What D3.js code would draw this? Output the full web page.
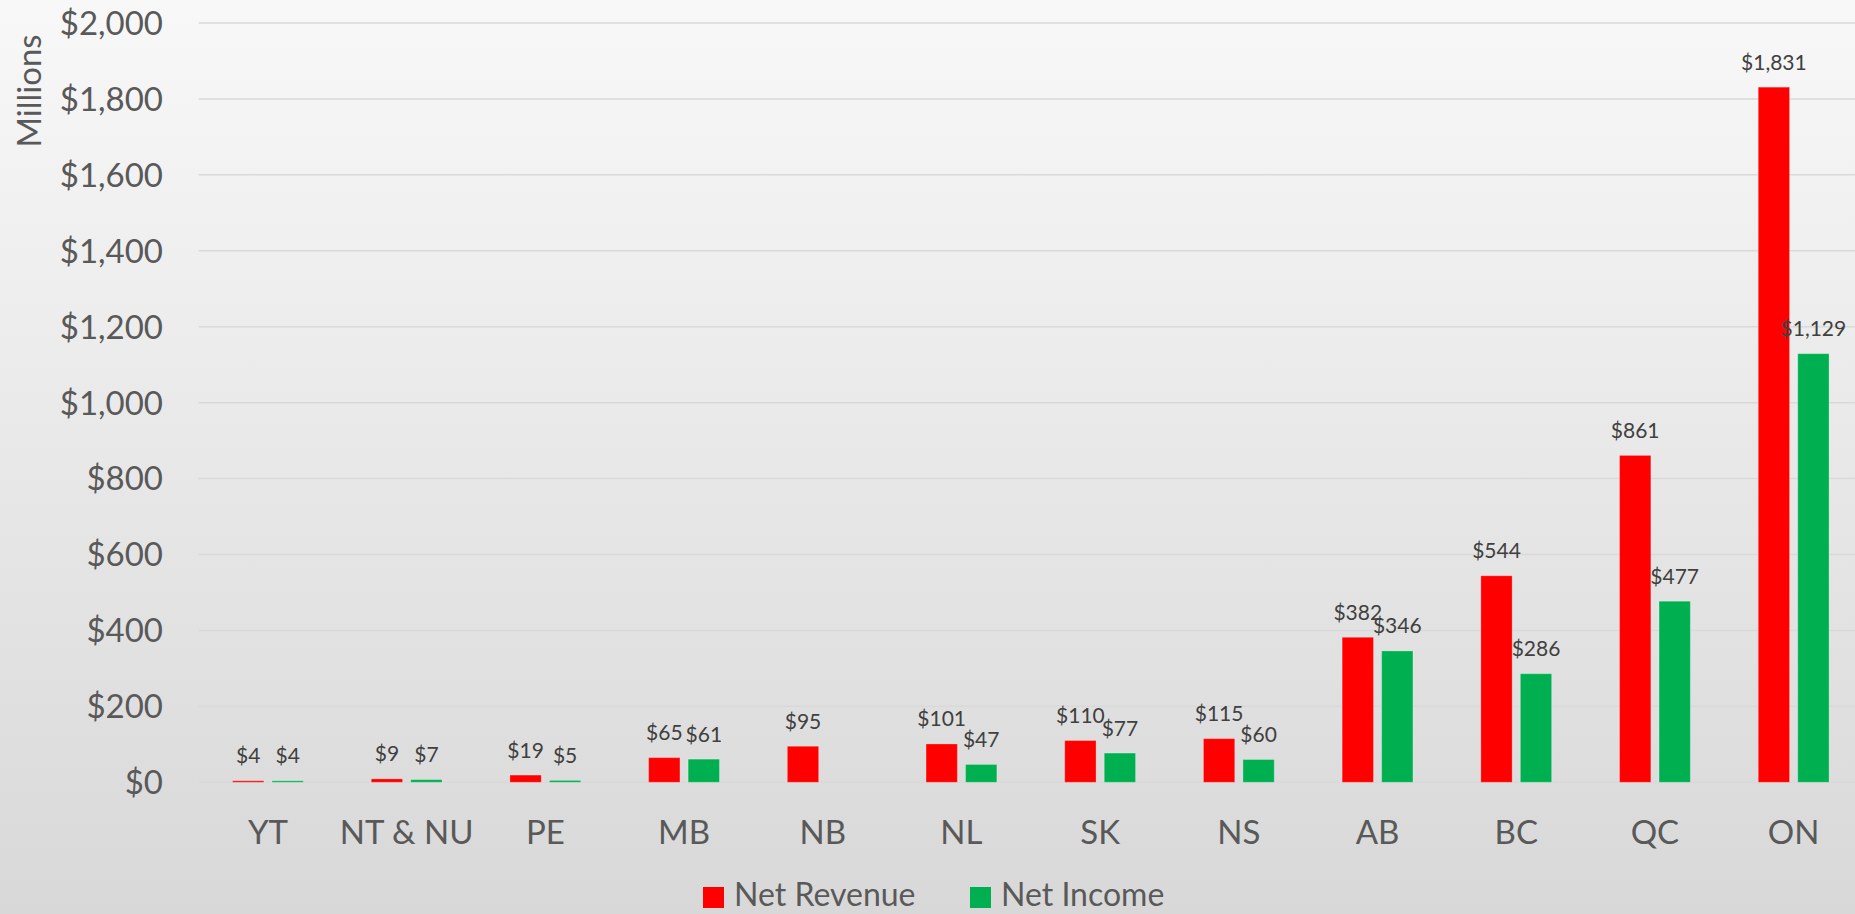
<!DOCTYPE html>
<html>
<head>
<meta charset="utf-8">
<script src="https://cdn.jsdelivr.net/npm/d3@7"></script>
<style>
  body { margin: 0; overflow: hidden; }
  svg { display: block; font-family: Lato, "Open Sans", sans-serif; }
</style>
</head>
<body>
<svg id="chart" width="1855" height="914"></svg>
<script>
  // provinces, smallest revenue first
  const provinces = ["YT", "NT & NU", "PE", "MB", "NB", "NL", "SK", "NS", "AB", "BC", "QC", "ON"];
  const netRevenue = [4, 9, 19, 65, 95, 101, 110, 115, 382, 544, 861, 1831];
  const netIncome = [4, 7, 5, 61, null, 47, 77, 60, 346, 286, 477, 1129];
  const yTicks = [0, 200, 400, 600, 800, 1000, 1200, 1400, 1600, 1800, 2000];
  const seriesNames = ["Net Revenue", "Net Income"];
  const seriesColors = ["#ff0000", "#00b050"];

  const W = 1855, H = 914;
  const svg = d3.select("#chart");

  // background gradient like the Excel chart area
  const defs = svg.append("defs");
  const grad = defs.append("linearGradient")
    .attr("id", "bg").attr("x1", 0).attr("y1", 0).attr("x2", 0).attr("y2", 1);
  grad.append("stop").attr("offset", "0%").attr("stop-color", "#f8f8f8");
  grad.append("stop").attr("offset", "100%").attr("stop-color", "#d8d8d8");
  svg.append("rect").attr("width", W).attr("height", H).attr("fill", "url(#bg)");

  const plotLeft = 198.6, bandW = 138.7;
  const x = d3.scaleBand()
    .domain(provinces)
    .range([plotLeft, plotLeft + bandW * provinces.length]);

  const y = d3.scaleLinear().domain([0, 2000]).range([782.3, 23]);

  const barW = 31.3, innerGap = 8.2;
  const barX = (p, i) => x(p) + x.bandwidth() / 2 + (i === 0 ? -innerGap / 2 - barW : innerGap / 2);

  // gridlines
  svg.append("g")
    .selectAll("line")
    .data(yTicks)
    .join("line")
    .attr("x1", plotLeft)
    .attr("x2", W)
    .attr("y1", d => y(d))
    .attr("y2", d => y(d))
    .attr("stroke", "#d9d9d9")
    .attr("stroke-width", 1.5);

  // y axis labels
  const fmt = d => "$" + d3.format(",")(d);
  svg.append("g")
    .selectAll("text")
    .data(yTicks)
    .join("text")
    .attr("x", 163)
    .attr("y", d => y(d))
    .attr("dy", "0.36em")
    .attr("text-anchor", "end")
    .attr("font-size", 33)
    .attr("fill", "#595959")
    .text(fmt);

  svg.append("text")
    .attr("transform", "translate(41,91) rotate(-90)")
    .attr("text-anchor", "middle")
    .attr("font-size", 33)
    .attr("fill", "#595959")
    .text("Millions");

  // bars and data labels
  const series = [netRevenue, netIncome];
  series.forEach((vals, i) => {
    const rows = provinces.map((p, k) => ({ p, v: vals[k] })).filter(d => d.v != null);
    const g = svg.append("g");
    g.selectAll("rect")
      .data(rows)
      .join("rect")
      .attr("x", d => barX(d.p, i))
      .attr("y", d => y(d.v))
      .attr("width", barW)
      .attr("height", d => y(0) - y(d.v))
      .attr("fill", seriesColors[i])
      .attr("stroke", "#ffffff")
      .attr("stroke-opacity", 0.25)
      .attr("stroke-width", 1);
    g.selectAll("text")
      .data(rows)
      .join("text")
      .attr("x", d => barX(d.p, i) + barW / 2)
      .attr("y", d => y(d.v) - 17.5)
      .attr("text-anchor", "middle")
      .attr("font-size", 21)
      .attr("fill", "#404040")
      .text(d => fmt(d.v));
  });

  // x axis labels
  svg.append("g")
    .selectAll("text")
    .data(provinces)
    .join("text")
    .attr("x", d => x(d) + x.bandwidth() / 2)
    .attr("y", 844)
    .attr("text-anchor", "middle")
    .attr("font-size", 33)
    .attr("fill", "#595959")
    .text(d => d);

  // legend
  const legendX = [703, 970];
  const legend = svg.append("g");
  seriesNames.forEach((name, i) => {
    legend.append("rect")
      .attr("x", legendX[i]).attr("y", 887)
      .attr("width", 21).attr("height", 21)
      .attr("fill", seriesColors[i]);
    legend.append("text")
      .attr("x", legendX[i] + 31)
      .attr("y", 906)
      .attr("font-size", 32)
      .attr("fill", "#595959")
      .text(name);
  });
</script>
</body>
</html>
